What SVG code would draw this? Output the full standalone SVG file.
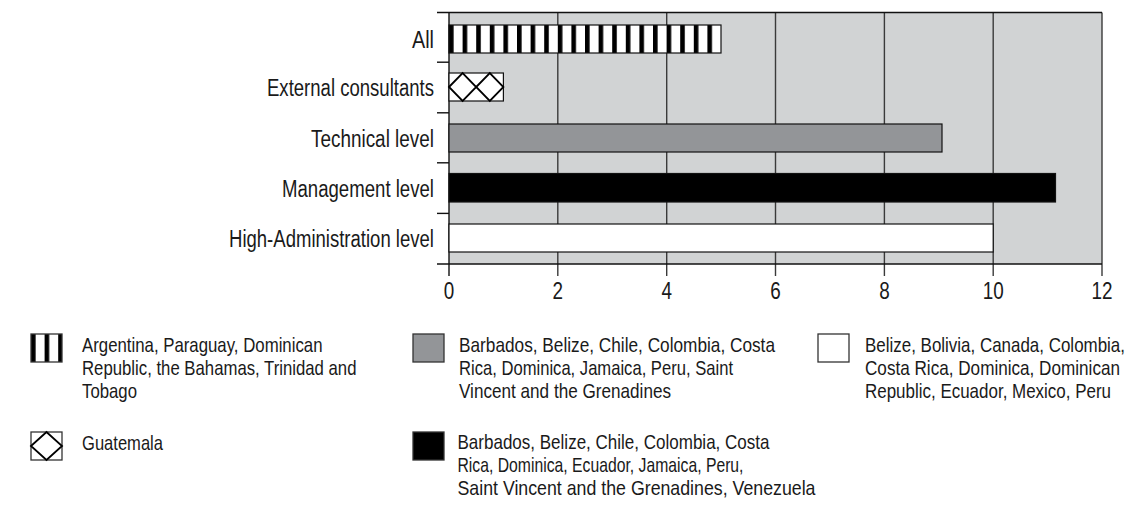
<svg xmlns="http://www.w3.org/2000/svg" xmlns:xlink="http://www.w3.org/1999/xlink" width="1146" height="506" viewBox="0 0 1146 506">
  <style>
    text { font-family: "Liberation Sans Narrow", "Liberation Sans", Arial, sans-serif; fill: #1a1a1a; }
    .cat { font-size: 23px; text-anchor: end; }
    .tick { font-size: 24px; text-anchor: middle; }
    .leg { font-size: 21px; }
    .grid { stroke: #3a3a3a; stroke-width: 1.4; }
    .axis { stroke: #111; stroke-width: 1.4; fill: none; }
    .bar { stroke: #111; stroke-width: 1.2; }
    .sym { stroke: #333; stroke-width: 1.3; }
    .dia { fill: #fff; stroke: #000; stroke-width: 1.8; stroke-linejoin: miter; }
  </style>
  <defs>
    <!-- vertical stripes: black 4.6, white 9 -->
    <pattern id="stripes" patternUnits="userSpaceOnUse" x="449" y="0" width="13.6" height="10">
      <rect x="0" y="0" width="13.6" height="10" fill="#fff"/>
      <rect x="0" y="0" width="4.6" height="10" fill="#000"/>
    </pattern>
    <pattern id="stripesLegend" xlink:href="#stripes" href="#stripes" x="31"/>
  </defs>

  <!-- plot area -->
  <g id="plot">
    <rect x="449" y="12.5" width="653" height="251.5" fill="#d1d3d4"/>
    <g id="gridlines">
      <line class="grid" x1="557.8" y1="12.5" x2="557.8" y2="276"/>
      <line class="grid" x1="666.7" y1="12.5" x2="666.7" y2="276"/>
      <line class="grid" x1="775.5" y1="12.5" x2="775.5" y2="276"/>
      <line class="grid" x1="884.4" y1="12.5" x2="884.4" y2="276"/>
      <line class="grid" x1="993.2" y1="12.5" x2="993.2" y2="276"/>
      <line class="grid" x1="1102" y1="12.5" x2="1102" y2="276"/>
    </g>
    <g id="axes">
      <line class="axis" x1="437" y1="12.5" x2="1102" y2="12.5"/>
      <line class="axis" x1="437" y1="264" x2="1102" y2="264"/>
      <line class="axis" x1="449" y1="12.5" x2="449" y2="276"/>
      <line class="axis" x1="437" y1="62.2" x2="449" y2="62.2"/>
      <line class="axis" x1="437" y1="112.8" x2="449" y2="112.8"/>
      <line class="axis" x1="437" y1="162.8" x2="449" y2="162.8"/>
      <line class="axis" x1="437" y1="213.4" x2="449" y2="213.4"/>
    </g>
  </g>

  <!-- bars -->
  <g id="bar-all">
    <rect class="bar" x="449" y="25" width="272" height="28" fill="url(#stripes)"/>
  </g>
  <g id="bar-external">
    <rect class="bar" x="449" y="73" width="54.4" height="28" fill="#fff"/>
    <polygon class="dia" points="449,87 462.6,73 476.2,87 462.6,101"/>
    <polygon class="dia" points="476.2,87 489.8,73 503.4,87 489.8,101"/>
  </g>
  <g id="bar-technical">
    <rect class="bar" x="449" y="124" width="493" height="28" fill="#939598"/>
  </g>
  <g id="bar-management">
    <rect class="bar" x="449" y="173.5" width="606.5" height="28.5" fill="#000"/>
  </g>
  <g id="bar-high">
    <rect class="bar" x="449" y="224" width="544.2" height="28" fill="#fff"/>
  </g>

  <!-- category labels -->
  <g id="categories">
    <text class="cat" x="434" y="48" textLength="22" lengthAdjust="spacingAndGlyphs">All</text>
    <text class="cat" x="434" y="96" textLength="167" lengthAdjust="spacingAndGlyphs">External consultants</text>
    <text class="cat" x="434" y="147" textLength="123" lengthAdjust="spacingAndGlyphs">Technical level</text>
    <text class="cat" x="434" y="197" textLength="152" lengthAdjust="spacingAndGlyphs">Management level</text>
    <text class="cat" x="434" y="247" textLength="205" lengthAdjust="spacingAndGlyphs">High-Administration level</text>
  </g>

  <!-- value axis labels -->
  <g id="ticks">
    <text class="tick" x="449" y="299" textLength="10.5" lengthAdjust="spacingAndGlyphs">0</text>
    <text class="tick" x="557.8" y="299" textLength="10.5" lengthAdjust="spacingAndGlyphs">2</text>
    <text class="tick" x="666.7" y="299" textLength="10.5" lengthAdjust="spacingAndGlyphs">4</text>
    <text class="tick" x="775.5" y="299" textLength="10.5" lengthAdjust="spacingAndGlyphs">6</text>
    <text class="tick" x="884.4" y="299" textLength="10.5" lengthAdjust="spacingAndGlyphs">8</text>
    <text class="tick" x="993.2" y="299" textLength="21" lengthAdjust="spacingAndGlyphs">10</text>
    <text class="tick" x="1102" y="299" textLength="21" lengthAdjust="spacingAndGlyphs">12</text>
  </g>

  <!-- legend -->
  <g id="legend-stripes">
    <rect class="sym" x="31" y="334" width="31" height="28" fill="url(#stripesLegend)"/>
    <text class="leg" x="82" y="352" textLength="240.5" lengthAdjust="spacingAndGlyphs">Argentina, Paraguay, Dominican</text>
    <text class="leg" x="82" y="375" textLength="274.5" lengthAdjust="spacingAndGlyphs">Republic, the Bahamas, Trinidad and</text>
    <text class="leg" x="82" y="398" textLength="55" lengthAdjust="spacingAndGlyphs">Tobago</text>
  </g>
  <g id="legend-diamond">
    <rect class="sym" x="31" y="432" width="31" height="28" fill="#fff"/>
    <polygon class="dia" points="31,446 46.5,432 62,446 46.5,460"/>
    <text class="leg" x="82" y="450" textLength="81" lengthAdjust="spacingAndGlyphs">Guatemala</text>
  </g>
  <g id="legend-gray">
    <rect class="sym" x="413" y="334" width="31" height="28" fill="#939598"/>
    <text class="leg" x="459" y="352" textLength="316" lengthAdjust="spacingAndGlyphs">Barbados, Belize, Chile, Colombia, Costa</text>
    <text class="leg" x="459" y="375" textLength="274" lengthAdjust="spacingAndGlyphs">Rica, Dominica, Jamaica, Peru, Saint</text>
    <text class="leg" x="459" y="398" textLength="212" lengthAdjust="spacingAndGlyphs">Vincent and the Grenadines</text>
  </g>
  <g id="legend-black">
    <rect class="sym" x="413" y="432" width="31" height="28" fill="#000"/>
    <text class="leg" x="457.5" y="449" textLength="312" lengthAdjust="spacingAndGlyphs">Barbados, Belize, Chile, Colombia, Costa</text>
    <text class="leg" x="457.5" y="472" textLength="286" lengthAdjust="spacingAndGlyphs">Rica, Dominica, Ecuador, Jamaica, Peru,</text>
    <text class="leg" x="457.5" y="495" textLength="358" lengthAdjust="spacingAndGlyphs">Saint Vincent and the Grenadines, Venezuela</text>
  </g>
  <g id="legend-white">
    <rect class="sym" x="818" y="334" width="31" height="28" fill="#fff"/>
    <text class="leg" x="865" y="352" textLength="260" lengthAdjust="spacingAndGlyphs">Belize, Bolivia, Canada, Colombia,</text>
    <text class="leg" x="865" y="375" textLength="255" lengthAdjust="spacingAndGlyphs">Costa Rica, Dominica, Dominican</text>
    <text class="leg" x="865" y="398" textLength="246" lengthAdjust="spacingAndGlyphs">Republic, Ecuador, Mexico, Peru</text>
  </g>
</svg>
